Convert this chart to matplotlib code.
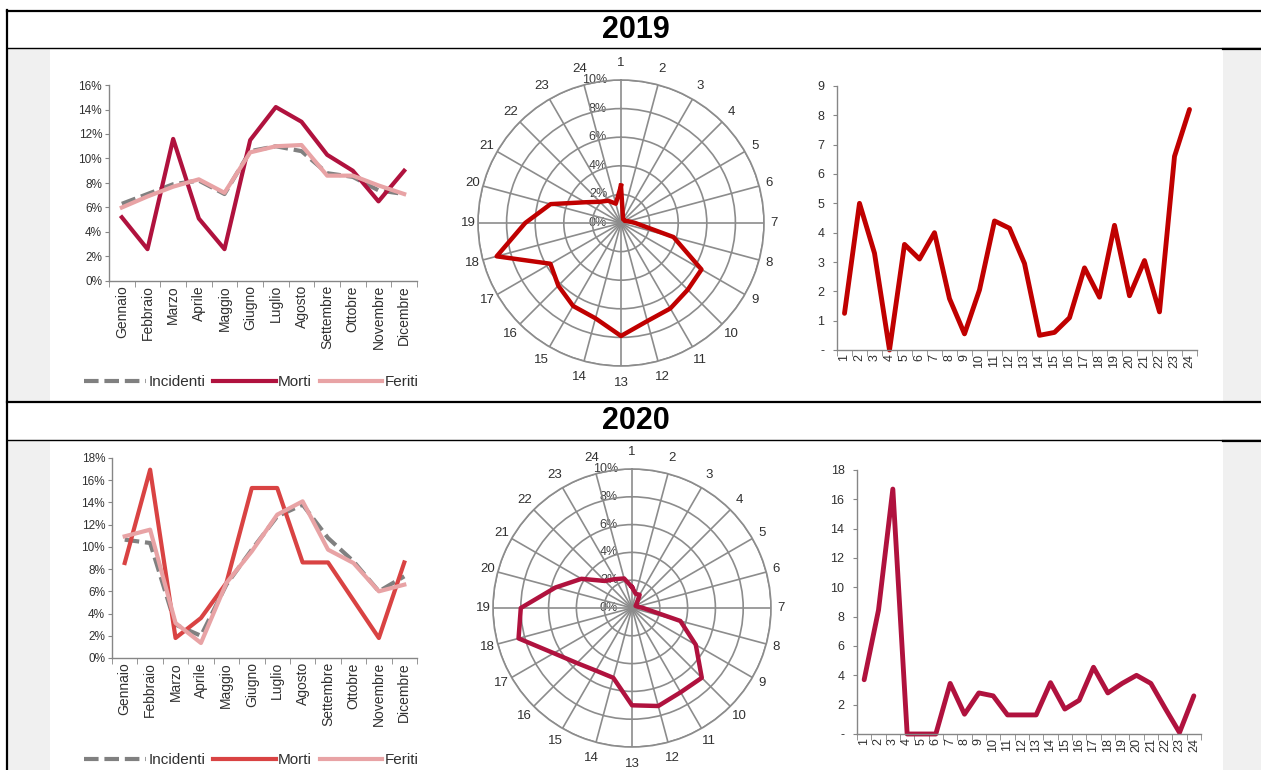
import numpy as np
import matplotlib.pyplot as plt
import matplotlib.transforms as mtransforms
from matplotlib.patches import Rectangle
from matplotlib.lines import Line2D

W, H = 1261, 770

mesi = ['Gennaio', 'Febbraio', 'Marzo', 'Aprile', 'Maggio', 'Giugno', 'Luglio',
        'Agosto', 'Settembre', 'Ottobre', 'Novembre', 'Dicembre']
ore = list(range(1, 25))

# 2019 - distribuzione mensile (%)
incidenti_2019 = [6.3, 7.1, 7.9, 8.2, 7.1, 10.6, 11.0, 10.6, 8.8, 8.5, 7.4, 7.1]
morti_2019 = [5.2, 2.6, 11.6, 5.1, 2.6, 11.5, 14.2, 13.0, 10.3, 9.0, 6.5, 9.0]
feriti_2019 = [6.0, 6.9, 7.7, 8.3, 7.2, 10.5, 11.0, 11.1, 8.6, 8.6, 7.8, 7.1]
# 2019 - distribuzione oraria (%) e valori per ora
radar_2019 = [2.6, 0.5, 0.3, 0.3, 0.3, 0.5, 1.0, 3.8, 6.5, 6.6, 6.9, 7.1,
              7.9, 6.9, 6.7, 6.2, 5.7, 9.0, 6.7, 5.1, 2.9, 2.1, 1.8, 1.4]
orario_2019 = [1.25, 5.0, 3.3, 0.0, 3.6, 3.1, 4.0, 1.75, 0.55, 2.05, 4.4, 4.15,
               2.95, 0.5, 0.6, 1.1, 2.8, 1.8, 4.25, 1.85, 3.05, 1.3, 6.6, 8.2]

# 2020
incidenti_2020 = [10.65, 10.35, 3.0, 2.0, 6.6, 9.75, 12.75, 13.8, 10.8, 8.7, 6.0, 7.35]
morti_2020 = [8.55, 16.95, 1.8, 3.6, 6.75, 15.3, 15.3, 8.6, 8.6, 5.2, 1.8, 8.6]
feriti_2020 = [10.95, 11.55, 3.15, 1.35, 6.75, 9.6, 12.9, 14.1, 9.75, 8.55, 6.0, 6.6]
radar_2020 = [1.5, 1.05, 1.1, 0.5, 0.3, 0.4, 0.8, 3.6, 5.3, 7.1, 7.0, 7.3,
              7.0, 5.2, 5.2, 5.6, 6.5, 8.45, 8.0, 5.7, 4.2, 2.75, 2.4, 2.2]
orario_2020 = [3.7, 8.45, 16.7, 0.0, 0.0, 0.0, 3.45, 1.35, 2.8, 2.6, 1.3, 1.3,
               1.3, 3.5, 1.7, 2.3, 4.55, 2.8, 3.45, 4.0, 3.45, 1.75, 0.1, 2.6]

GRIGIO = '#808080'
ROSA = '#E8A3A5'
CREMISI = '#B0123E'
ROSSO = '#C00000'
ROSSO_2020 = '#D94343'
ASSE = '#868686'
TESTO = '#303030'

plt.rcParams['font.family'] = ['Liberation Sans', 'DejaVu Sans']

fig = plt.figure(figsize=(W / 100, H / 100), dpi=100)


def box(l, t, r, b):
    return [l / W, 1 - b / H, (r - l) / W, (b - t) / H]


# table frame, grey margins and year headers
bg = fig.add_axes([0, 0, 1, 1], zorder=-10)
bg.set_xlim(0, W)
bg.set_ylim(H, 0)
bg.axis('off')
for top, bottom in [(49, 402), (441, 770)]:
    bg.add_patch(Rectangle((8, top), 42, bottom - top, color='#F0F0F0', lw=0))
    bg.add_patch(Rectangle((1223, top), 38, bottom - top, color='#F0F0F0', lw=0))
bg.add_line(Line2D([7, W], [11, 11], color='black', lw=1.6))
bg.add_line(Line2D([7, W], [48, 48], color='black', lw=1.0))
bg.add_line(Line2D([1223, W], [49, 49], color='black', lw=1.6))
bg.add_line(Line2D([7, W], [402, 402], color='black', lw=1.6))
bg.add_line(Line2D([7, W], [440, 440], color='black', lw=1.0))
bg.add_line(Line2D([1223, W], [441, 441], color='black', lw=1.6))
bg.add_line(Line2D([7, 7], [10, H], color='black', lw=1.6))
bg.text(636, 30, '2019', ha='center', va='center', fontsize=22, fontweight='bold')
bg.text(636, 421, '2020', ha='center', va='center', fontsize=22, fontweight='bold')


def stile_assi(ax):
    for s in ['top', 'right']:
        ax.spines[s].set_visible(False)
    for s in ['left', 'bottom']:
        ax.spines[s].set_color(ASSE)
        ax.spines[s].set_linewidth(1.0)
    ax.tick_params(axis='y', length=3, color=ASSE, labelcolor=TESTO, pad=2)
    ax.tick_params(axis='x', which='major', length=0, labelcolor=TESTO, pad=3)
    ax.tick_params(axis='x', which='minor', length=4, color=ASSE)


def grafico_mesi(rect, inc, mor, fer, col_morti, ymax, legenda_y):
    ax = fig.add_axes(box(*rect))
    x = np.arange(len(mesi))
    l1, = ax.plot(x, inc, color=GRIGIO, lw=3, dashes=(3.5, 1.4), label='Incidenti')
    l2, = ax.plot(x, mor, color=col_morti, lw=3, solid_joinstyle='round', label='Morti')
    l3, = ax.plot(x, fer, color=ROSA, lw=3, solid_joinstyle='round', label='Feriti')
    ax.set_xlim(-0.5, 11.5)
    ax.set_ylim(0, ymax)
    ax.set_xticks(x)
    ax.set_xticklabels(mesi, rotation=90, fontsize=10)
    ax.set_xticks(np.arange(-0.5, 12, 1), minor=True)
    yt = list(range(0, ymax + 1, 2))
    ax.set_yticks(yt)
    ax.set_yticklabels([f'{v}%' for v in yt], fontsize=8.5)
    stile_assi(ax)
    fig.legend(handles=[l1, l2, l3], loc='center',
               bbox_to_anchor=(251 / W, 1 - legenda_y / H), ncol=3, frameon=False,
               handlelength=4.1, handletextpad=0.15, columnspacing=0.5,
               prop={'size': 11}, labelcolor=TESTO)


def grafico_radar(cx, cy, rad, vals, col):
    ax = fig.add_axes(box(cx - rad, cy - rad, cx + rad, cy + rad), projection='polar')
    ax.set_theta_zero_location('N')
    ax.set_theta_direction(-1)
    theta = np.deg2rad(np.arange(24) * 15)
    ax.set_ylim(0, 10)
    ax.set_xticks(theta)
    ax.set_xticklabels([])
    ax.set_yticks([2, 4, 6, 8, 10])
    ax.set_yticklabels([])
    ax.grid(True, color='#8C8C8C', lw=1.2)
    ax.spines['polar'].set_color('#8C8C8C')
    ax.spines['polar'].set_linewidth(1.2)
    sposta = mtransforms.offset_copy(ax.transData, fig=fig, x=-10, y=0, units='points')
    for v in range(0, 11, 2):
        ax.text(0, v, f'{v}%', transform=sposta, ha='right', va='center',
                fontsize=9, color='#404040', zorder=1)
    for h, t in zip(ore, theta):
        r = 10.7 + 0.5 * np.cos(t) ** 2
        ax.text(t, r, str(h), ha='center', va='center', fontsize=9.5, color=TESTO)
    tt = np.append(theta, theta[0])
    vv = list(vals) + [vals[0]]
    ax.plot(tt, vv, color=col, lw=3.2, solid_joinstyle='round', zorder=5)


def grafico_ore(rect, vals, col, yt):
    ax = fig.add_axes(box(*rect))
    ax.plot(ore, vals, color=col, lw=3.5, solid_joinstyle='round',
            solid_capstyle='round', clip_on=False)
    ax.set_xlim(0.5, 24.5)
    ax.set_ylim(0, yt[-1])
    ax.set_xticks(ore)
    ax.set_xticklabels([str(h) for h in ore], rotation=90, fontsize=9)
    ax.set_xticks(np.arange(0.5, 25, 1), minor=True)
    ax.set_yticks(yt)
    ax.set_yticklabels(['-'] + [str(v) for v in yt[1:]], fontsize=9)
    stile_assi(ax)
    ax.tick_params(axis='y', pad=6)


# 2019
grafico_mesi((109, 85, 417, 281), incidenti_2019, morti_2019, feriti_2019,
             CREMISI, 16, 382)
grafico_radar(621, 223, 143, radar_2019, ROSSO)
grafico_ore((837, 86, 1197, 350), orario_2019, ROSSO, list(range(0, 10)))

# 2020
grafico_mesi((112, 458, 417, 658), incidenti_2020, morti_2020, feriti_2020,
             ROSSO_2020, 18, 760)
grafico_radar(632, 608, 139, radar_2020, CREMISI)
grafico_ore((857, 470, 1201, 734), orario_2020, CREMISI, list(range(0, 19, 2)))

fig.savefig('out.png', dpi=100)
